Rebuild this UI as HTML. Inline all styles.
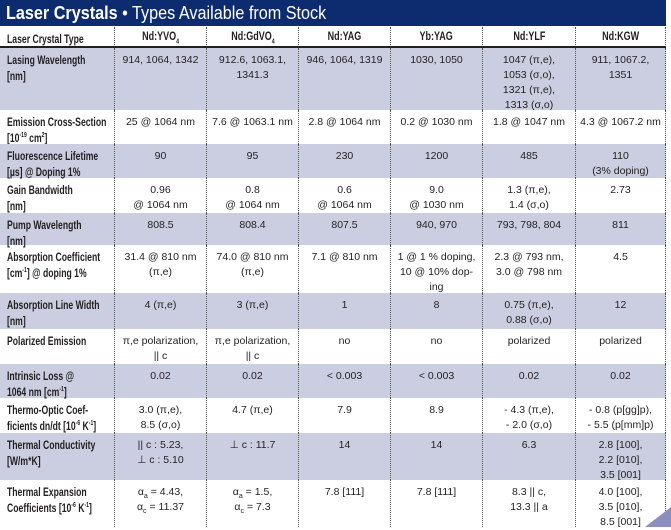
<!DOCTYPE html>
<html><head><meta charset="utf-8"><style>
*{margin:0;padding:0;box-sizing:border-box}
body{width:671px;height:527px;overflow:hidden;background:#fff;position:relative;font-family:"Liberation Sans",sans-serif;color:#231f20}
#title{position:absolute;left:0;top:0;width:666px;height:26px;background:#0d2b6f;color:#fff;font-size:18px;line-height:26px;padding-left:6px;white-space:nowrap}
#title span{display:inline-block;transform:scaleX(.9);transform-origin:left}
.row{position:absolute;left:0;width:666px}
.sh{background:#cbcde1}
.c{position:absolute;top:0;bottom:0;text-align:center;font-size:10.5px;line-height:15px;padding-top:5px;border-left:1px dotted #555;white-space:nowrap}
.l{position:absolute;left:7px;top:4px;font-weight:bold;font-size:12px;line-height:16px;white-space:nowrap;transform:scaleX(.72);transform-origin:left top}
.hd .c{font-weight:bold;font-size:12px;padding-top:2px}
.hd .c span{display:inline-block;transform:scaleX(.75)}
sub,sup{font-size:7px;line-height:0}
</style></head><body>
<div id="title"><span><b>Laser Crystals</b> • Types Available from Stock</span></div>
<div id="t"></div>
<script>
const X=[114,206,298,390,482,575,665];
const rows=[
[27,47,0,"Laser Crystal Type",["Nd:YVO<sub>4</sub>","Nd:GdVO<sub>4</sub>","Nd:YAG","Yb:YAG","Nd:YLF","Nd:KGW"],1],
[48,110,1,"Lasing Wavelength<br>[nm]",["914, 1064, 1342","912.6, 1063.1,<br>1341.3","946, 1064, 1319","1030, 1050","1047 (π,e),<br>1053 (σ,o),<br>1321 (π,e),<br>1313 (σ,o)","911, 1067.2,<br>1351"]],
[110,144,0,"Emission Cross-Section<br>[10<sup>-19</sup> cm<sup>2</sup>]",["25 @ 1064 nm","7.6 @ 1063.1 nm","2.8 @ 1064 nm","0.2 @ 1030 nm","1.8 @ 1047 nm","4.3 @ 1067.2 nm"]],
[144,178,1,"Fluorescence Lifetime<br>[µs] @ Doping 1%",["90","95","230","1200","485","110<br>(3% doping)"]],
[178,213,0,"Gain Bandwidth<br>[nm]",["0.96<br>@ 1064 nm","0.8<br>@ 1064 nm","0.6<br>@ 1064 nm","9.0<br>@ 1030 nm","1.3 (π,e),<br>1.4 (σ,o)","2.73"]],
[213,245,1,"Pump Wavelength<br>[nm]",["808.5","808.4","807.5","940, 970","793, 798, 804","811"]],
[245,293,0,"Absorption Coefficient<br>[cm<sup>-1</sup>] @ doping 1%",["31.4 @ 810 nm<br>(π,e)","74.0 @ 810 nm<br>(π,e)","7.1 @ 810 nm","1 @ 1 % doping,<br>10 @ 10% dop-<br>ing","2.3 @ 793 nm,<br>3.0 @ 798 nm","4.5"]],
[293,329,1,"Absorption Line Width<br>[nm]",["4 (π,e)","3 (π,e)","1","8","0.75 (π,e),<br>0.88 (σ,o)","12"]],
[329,364,0,"Polarized Emission",["π,e polarization,<br>|| c","π,e polarization,<br>|| c","no","no","polarized","polarized"]],
[364,398,1,"Intrinsic Loss @<br>1064 nm [cm<sup>-1</sup>]",["0.02","0.02","&lt; 0.003","&lt; 0.003","0.02","0.02"]],
[398,433,0,"Thermo-Optic Coef-<br>ficients dn/dt [10<sup>-6</sup> K<sup>-1</sup>]",["3.0 (π,e),<br>8.5 (σ,o)","4.7 (π,e)","7.9","8.9","- 4.3 (π,e),<br>- 2.0 (σ,o)","- 0.8 (p[gg]p),<br>- 5.5 (p[mm]p)"]],
[433,480,1,"Thermal Conductivity<br>[W/m*K]",["|| c : 5.23,<br>⊥ c : 5.10","⊥ c : 11.7","14","14","6.3","2.8 [100],<br>2.2 [010],<br>3.5 [001]"]],
[480,527,0,"Thermal Expansion<br>Coefficients [10<sup>-6</sup> K<sup>-1</sup>]",["α<sub>a</sub> = 4.43,<br>α<sub>c</sub> = 11.37","α<sub>a</sub> = 1.5,<br>α<sub>c</sub> = 7.3","7.8 [111]","7.8 [111]","8.3 || c,<br>13.3 || a","4.0 [100],<br>3.5 [010],<br>8.5 [001]"]]
];
let h="";
for(const r of rows){
 h+=`<div class="row ${r[2]?'sh':''} ${r[5]?'hd':''}" style="top:${r[0]}px;height:${r[1]-r[0]}px">`;
 h+=`<div class="l">${r[3]}</div>`;
 r[4].forEach((v,i)=>{h+=`<div class="c" style="left:${X[i]}px;width:${X[i+1]-X[i]}px"><span>${v}</span></div>`});
 h+=`<div class="c" style="left:${X[6]}px;width:1px"></div></div>`;
}
h+=`<div style="position:absolute;left:0;top:46px;width:666px;height:2px;background:#231f20"></div>`;
h+=`<div style="position:absolute;left:645px;top:507px;width:0;height:0;border-left:26px solid transparent;border-bottom:20px solid #8a8fc0"></div>`;
document.getElementById('t').innerHTML=h;
</script>
</body></html>
